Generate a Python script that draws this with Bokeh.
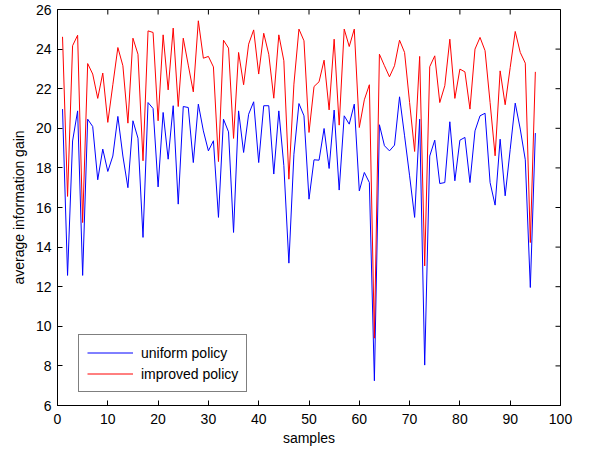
import math
from bokeh.plotting import figure
from bokeh.models import FixedTicker, Range1d, Legend, LegendItem
from bokeh.embed import file_html
from bokeh.resources import INLINE

samples = list(range(1, 96))
uniform_policy = [
    20.97, 12.57, 19.36, 20.88, 12.57, 20.46, 20.09, 17.4, 18.95, 17.82,
    18.6, 20.6, 18.6, 17.0, 20.38, 19.5, 14.49, 21.3, 21.0, 17.04,
    20.8, 18.44, 21.14, 16.17, 21.1, 21.05, 18.27, 21.22, 19.87, 18.86,
    19.37, 15.5, 20.46, 19.82, 14.74, 20.88, 18.78, 20.71, 21.34, 18.27,
    21.14, 21.14, 17.69, 20.88, 18.11, 13.19, 18.69, 21.25, 20.63, 16.42,
    18.41, 18.39, 19.99, 17.97, 20.92, 16.88, 20.63, 20.21, 21.22, 16.84,
    17.77, 17.26, 7.25, 20.18, 19.12, 18.86, 19.15, 21.59, 19.62, 17.6,
    15.5, 20.46, 8.04, 18.6, 19.4, 17.21, 17.26, 20.33, 17.35, 19.4,
    19.54, 17.26, 19.87, 20.63, 20.76, 17.26, 16.12, 19.45, 16.59, 18.93,
    21.27, 19.96, 18.41, 11.96, 19.76,
]
improved_policy = [
    24.62, 16.56, 24.17, 24.7, 15.24, 23.27, 22.74, 21.51, 22.79, 20.3,
    22.2, 24.08, 23.16, 20.26, 24.55, 23.74, 18.36, 24.92, 24.84, 20.38,
    24.72, 21.94, 25.06, 21.1, 24.55, 23.19, 21.84, 25.43, 23.54, 23.63,
    23.1, 18.32, 24.45, 24.05, 19.49, 23.83, 22.2, 24.25, 24.97, 22.74,
    24.8, 23.74, 21.52, 24.72, 23.41, 17.43, 22.23, 25.01, 24.42, 19.79,
    22.11, 22.35, 23.44, 20.93, 24.5, 20.16, 25.01, 24.13, 25.01, 20.04,
    21.44, 22.2, 9.4, 23.74, 23.16, 22.6, 23.16, 24.45, 23.83, 21.3,
    18.83, 23.63, 13.05, 23.11, 23.66, 21.3, 22.15, 24.5, 21.51, 22.99,
    22.85, 20.97, 24.0, 24.59, 23.92, 21.3, 18.61, 22.9, 21.19, 23.07,
    24.89, 23.83, 23.29, 14.23, 22.85,
]
series_names = ["uniform policy", "improved policy"]
series_colors = ["#0000FF", "#FF0000"]
x_ticks = list(range(0, 101, 10))
y_ticks = list(range(6, 27, 2))
X_MIN, X_MAX = 0, 100
Y_MIN, Y_MAX = 6, 26

FONT = "Liberation Sans"

p = figure(
    frame_width=503, frame_height=396,
    x_range=Range1d(X_MIN, X_MAX), y_range=Range1d(Y_MIN, Y_MAX),
    output_backend="svg", toolbar_location=None,
    min_border_left=57, min_border_right=22, min_border_top=9, min_border_bottom=10,
)
p.xgrid.visible = False
p.ygrid.visible = False
p.outline_line_color = "black"
p.outline_line_width = 1
p.background_fill_color = "white"
p.border_fill_color = "white"

for ax, ticks in ((p.xaxis[0], x_ticks), (p.yaxis[0], y_ticks)):
    ax.ticker = FixedTicker(ticks=ticks)
    ax.major_tick_in = 5
    ax.major_tick_out = 0
    ax.minor_tick_line_color = None
    ax.axis_line_color = "black"
    ax.major_label_text_font = FONT
    ax.major_label_text_font_size = "14px"
    ax.major_label_text_color = "black"
    ax.axis_label_text_font = FONT
    ax.axis_label_text_font_size = "14px"
    ax.axis_label_text_font_style = "normal"
    ax.axis_label_text_color = "black"

p.xaxis.axis_label = "samples"
p.yaxis.axis_label = "average information gain"
p.xaxis.major_label_standoff = 8
p.yaxis.major_label_standoff = 6
p.xaxis.axis_label_standoff = 3
p.yaxis.axis_label_standoff = 6

# inward ticks on the top and right edges of the box (MATLAB style)
p.scatter(x_ticks, [Y_MAX] * len(x_ticks), marker="dash", size=10,
          angle=math.pi / 2, line_color="black", line_width=1)
p.scatter([X_MAX] * len(y_ticks), y_ticks, marker="dash", size=10,
          angle=0, line_color="black", line_width=1)

items = []
for name, color, vals in zip(series_names, series_colors,
                             [uniform_policy, improved_policy]):
    r = p.multi_line(xs=[samples], ys=[vals], line_color=color, line_width=1)
    items.append(LegendItem(label=name, renderers=[r]))

lg = Legend(items=items)
lg.location = (21, 13)
lg.border_line_color = "black"
lg.border_line_width = 1
lg.background_fill_color = "white"
lg.background_fill_alpha = 1
lg.label_text_font = FONT
lg.label_text_font_size = "14px"
lg.label_text_color = "black"
lg.glyph_width = 46
lg.glyph_height = 19
lg.label_height = 19
lg.label_standoff = 8
lg.spacing = 2
lg.padding = 8
lg.margin = 0
p.add_layout(lg, "center")

open("out.html", "w").write(file_html(p, INLINE))
